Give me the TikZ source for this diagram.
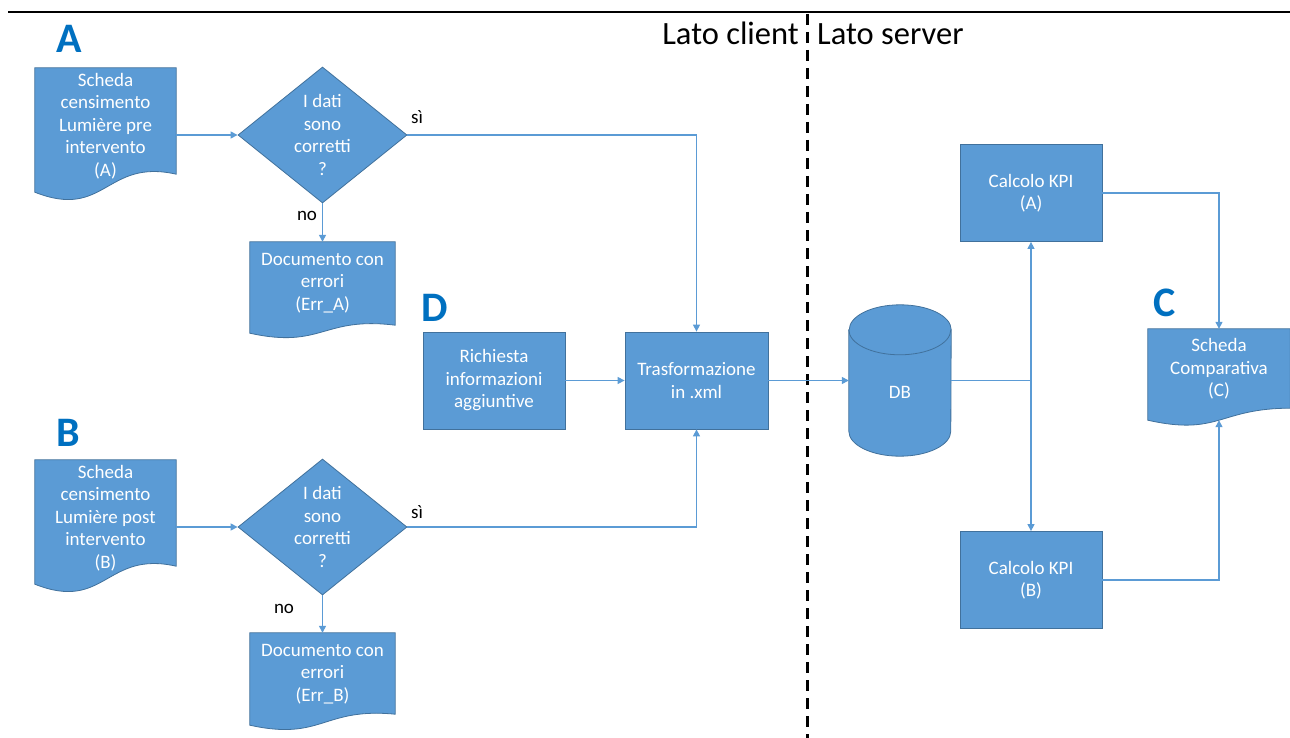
\documentclass[tikz,border=0pt]{standalone}
\usepackage{fontspec}
\setmainfont{Carlito}
\usetikzlibrary{arrows.meta,shapes.geometric,calc}
\definecolor{boxfill}{HTML}{5B9BD5}
\definecolor{boxline}{HTML}{41719C}
\definecolor{lblue}{HTML}{0070C0}
\pgfdeclarelayer{background}
\pgfsetlayers{background,main}
\tikzset{
 shapestyle/.style={fill=boxfill, draw=boxline, line width=0.8pt},
 boxtext/.style={text=white, font=\fontsize{19}{22.5}\selectfont, align=center},
 procbox/.style={shapestyle, boxtext, rectangle, minimum width=142pt, minimum height=97pt, inner sep=0pt},
 docnode/.style={boxtext, rectangle, inner sep=0pt},
 decision/.style={shapestyle, diamond, minimum width=169pt, minimum height=136pt, inner sep=0pt},
 conn/.style={draw=boxfill, line width=1.3pt},
 arr/.style={conn, -{Triangle[length=7pt,width=7pt]}},
 biglabel/.style={text=lblue, font=\fontsize{42}{42}\selectfont\bfseries, inner sep=0pt},
 yesno/.style={text=black, font=\fontsize{19}{22}\selectfont, inner sep=0pt},
 side/.style={text=black, font=\fontsize{32.5}{36}\selectfont, inner sep=0pt},
}
\newcommand\mkdoc[5]{%
 \begin{pgfonlayer}{background}
 \path[shapestyle] (#1.north west) -- (#1.north east) -- ($(#1.south east)+(0,#5)$)
   .. controls ($(#1.south)+(0,#4)$) and ($(#1.south)+(0,#3)$) .. ($(#1.south west)+(0,#2)$) -- cycle;
 \end{pgfonlayer}}
\begin{document}
\begin{tikzpicture}[x=1pt,y=-1pt]
\useasboundingbox (0,0) rectangle (1290,738);
% header and separator
\draw[black, line width=2.5pt] (8,12) -- (1290,12);
\draw[black, line width=3pt, dash pattern=on 11pt off 7pt] (807,14) -- (807,738);
\node[side, anchor=base east] (lc) at (799,45) {Lato client};
\node[side, anchor=base west] (ls) at (817,45) {Lato server};
% big labels
\node[biglabel, anchor=base] (lA) at (69.5,53) {A};
\node[biglabel, anchor=base] (lB) at (68.5,446) {B};
\node[biglabel, anchor=base] (lC) at (1165,316) {C};
\node[biglabel, anchor=base] (lD) at (435,321) {D};
% section A
\node[docnode, minimum width=141pt, minimum height=116pt] (a1) at (105.5,126) {Scheda\\censimento\\Lumière pre\\intervento\\(A)};
\mkdoc{a1}{8}{36}{-26}{-10}
\node[decision] (dA) at (322.5,135) {};
\node[boxtext] (dAt) at (dA) {I dati\\sono\\corretti\\?};
\node[docnode, minimum width=145pt, minimum height=82pt] (ea) at (322.5,283) {Documento con\\errori\\(Err\_A)};
\mkdoc{ea}{9}{25}{-8}{1}
% section B
\node[docnode, minimum width=141pt, minimum height=116pt] (b1) at (105.5,518) {Scheda\\censimento\\Lumière post\\intervento\\(B)};
\mkdoc{b1}{8}{36}{-26}{-10}
\node[decision] (dB) at (322.5,527) {};
\node[boxtext] (dBt) at (dB) {I dati\\sono\\corretti\\?};
\node[docnode, minimum width=145pt, minimum height=82pt] (eb) at (322.5,674) {Documento con\\errori\\(Err\_B)};
\mkdoc{eb}{10}{26}{-8}{-1}
% section D
\node[procbox] (ri) at (494,380.5) {Richiesta\\informazioni\\aggiuntive};
\node[procbox, minimum width=143pt] (tr) at (696.5,380.5) {Trasformazione\\in .xml};
% DB
\node[inner sep=0pt, minimum width=102pt, minimum height=151pt] (db) at (900,380.5) {};
\begin{pgfonlayer}{background}
\path[shapestyle] ($(db.north west)+(0,25)$) -- ($(db.south west)+(0,-25)$)
  arc[start angle=180, end angle=360, x radius=51pt, y radius=25pt]
  -- ($(db.north east)+(0,25)$)
  arc[start angle=0, end angle=180, x radius=51pt, y radius=25pt] -- cycle;
\draw[boxline, line width=0.8pt] ($(db.north west)+(0,25)$) arc[start angle=180, end angle=360, x radius=51pt, y radius=25pt];
\end{pgfonlayer}
\node[boxtext] (dbt) at (900,392) {DB};
% KPI
\node[procbox] (ka) at (1031,193) {Calcolo KPI\\(A)};
\node[procbox] (kb) at (1031,580) {Calcolo KPI\\(B)};
% C
\node[docnode, minimum width=142pt, minimum height=80pt] (c) at (1219,369) {Scheda\\Comparativa\\(C)};
\mkdoc{c}{11}{27}{-1}{-1}
\coordinate (cbot) at ($(c.south)+(0,11)$);
% connectors
\draw[arr] (a1.east |- dA.west) -- (dA.west);
\draw[arr] (dA.east) -| (tr.north);
\draw[arr] (dA.south) -- (ea.north);
\node[yesno, anchor=base] (siA) at (417,124) {sì};
\node[yesno, anchor=base] (noA) at (307,221) {no};
\draw[arr] (b1.east |- dB.west) -- (dB.west);
\draw[arr] (dB.east) -| (tr.south);
\draw[arr] (dB.south) -- (eb.north);
\node[yesno, anchor=base] (siB) at (417,518) {sì};
\node[yesno, anchor=base] (noB) at (284,613) {no};
\draw[arr] (ri.east) -- (tr.west);
\draw[arr] (tr.east) -- (db.west);
\coordinate (j) at (db.east -| ka.south);
\draw[conn] (db.east) -- (j);
\draw[arr] (j) -- (ka.south);
\draw[arr] (j) -- (kb.north);
\draw[arr] (ka.east) -| (c.north);
\draw[arr] (kb.east) -| (cbot);
\end{tikzpicture}
\end{document}
